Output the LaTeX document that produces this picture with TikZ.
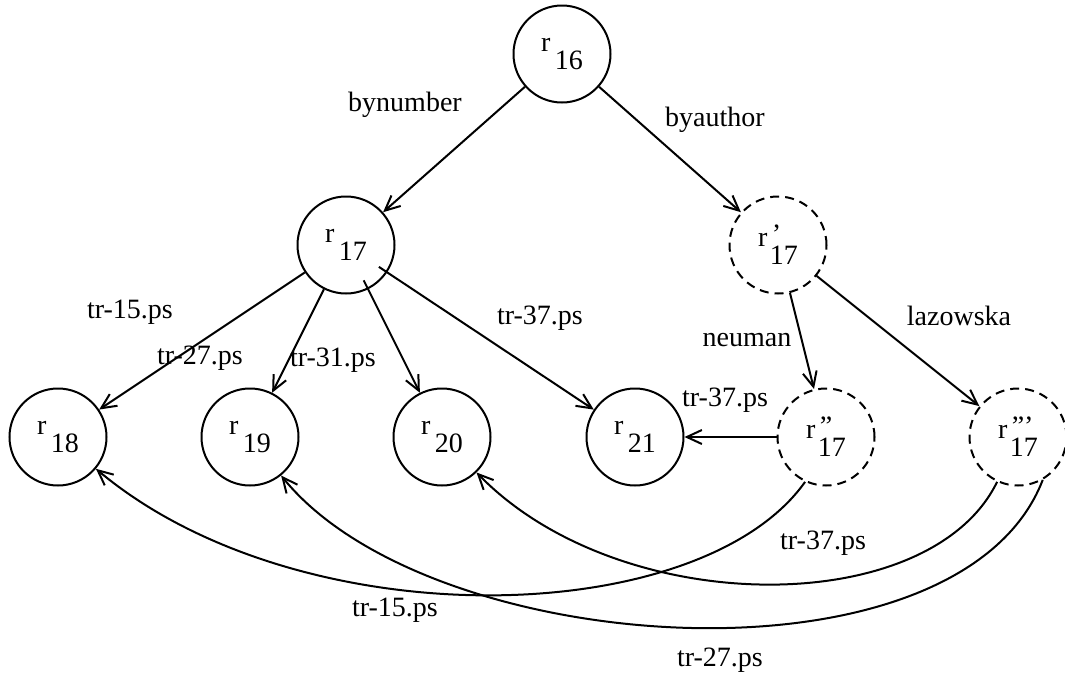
\documentclass[tikz,border=0pt]{standalone}
\usepackage{fontspec}
\setmainfont{Liberation Serif}
\usetikzlibrary{arrows.meta}
\newcommand{\rsub}[1]{r\hspace{0.15em}\raisebox{-0.65em}{#1}}
\newcommand{\rprm}[2]{r\rlap{\hspace{0.15em}\raisebox{0.1em}{#1}}\hspace{0.08em}\raisebox{-0.65em}{#2}}

\begin{document}
\begin{tikzpicture}[x=1pt, y=-1pt,
  rnode/.style={circle, draw, line width=2pt, minimum size=97pt, inner sep=0pt,
    font=\fontsize{28}{32}\selectfont},
  vnode/.style={rnode, dash pattern=on 9pt off 6pt},
  lbl/.style={font=\fontsize{28}{32}\selectfont, inner sep=0pt},
  arr/.style={-{Straight Barb[length=15pt,width=14pt,line width=2pt]}, line width=2pt}
]
\useasboundingbox (0,0) rectangle (1065,675);

\node[rnode] (n16)  at (562,54)   {\rsub{16}};
\node[rnode] (n17)  at (346,245)  {\rsub{17}};
\node[vnode] (n17a) at (778,245)  {\rprm{'}{17}};
\node[rnode] (n18)  at (58,437)   {\rsub{18}};
\node[rnode] (n19)  at (250,437)  {\rsub{19}};
\node[rnode] (n20)  at (442,437)  {\rsub{20}};
\node[rnode] (n21)  at (635,437)  {\rsub{21}};
\node[vnode] (n17b) at (826,437)  {\rprm{''}{17}};
\node[vnode] (n17c) at (1018,437) {\rprm{'''}{17}};

\draw[arr] (n16) -- (n17);
\draw[arr] (n16) -- (n17a);
\draw[arr] (n17) -- (n18);
\draw[arr] (n17) -- (n19);
\draw[arr, shorten <=-10pt] (n17) -- (n20);
\draw[arr, shorten <=-10pt] (n17) -- (n21);
\draw[arr] (n17a) -- (n17b);
\draw[arr] (n17a) -- (n17c);
\draw[arr] (n17b) -- (n21);

% long links back to the left
\draw[arr] (n17b.245) .. controls (700,630) and (300,640) .. (n18);
\draw[arr] (n17c.245) .. controls (930,620) and (620,620) .. (n20);
\draw[arr] (n17c.300) .. controls (960,695) and (430,660) .. (n19);

\node[lbl] (l1)  at (405,105) {bynumber};
\node[lbl] (l2)  at (715,120) {byauthor};
\node[lbl] (l3)  at (130,312) {tr-15.ps};
\node[lbl] (l4)  at (200,358) {tr-27.ps};
\node[lbl] (l5)  at (333,360) {tr-31.ps};
\node[lbl] (l6)  at (540,318) {tr-37.ps};
\node[lbl] (l7)  at (747,340) {neuman};
\node[lbl] (l8)  at (959,316) {lazowska};
\node[lbl] (l9)  at (725,400) {tr-37.ps};
\node[lbl] (l10) at (823,543) {tr-37.ps};
\node[lbl] (l11) at (395,610) {tr-15.ps};
\node[lbl] (l12) at (720,660) {tr-27.ps};

\end{tikzpicture}
\end{document}
